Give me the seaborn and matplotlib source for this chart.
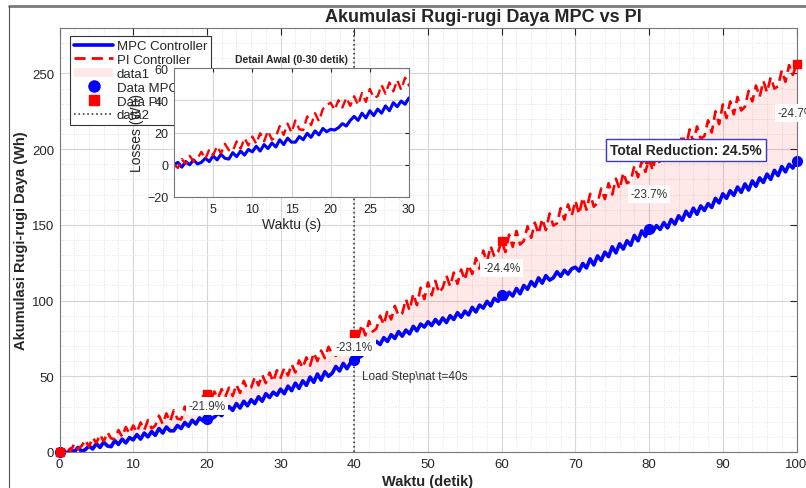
import numpy as np
import matplotlib
matplotlib.use("Agg")
import matplotlib.pyplot as plt
import seaborn as sns
from matplotlib.lines import Line2D
from matplotlib.ticker import MultipleLocator

# ---------------- data ----------------
time_s = np.linspace(0, 100, 201)

mpc_loss = [
    0.0, 1.5, -1.5, 2.0, 0.0, 3.0, 0.5, 1.5, 4.0, 2.0, 5.5, 3.0, 6.5, 4.0, 3.5, 7.5, 5.0, 8.5, 6.0, 9.5,
    8.0, 11.5, 8.5, 12.5, 10.0, 13.5, 11.0, 15.5, 12.5, 16.5, 14.0, 14.0, 17.5, 15.5, 19.5, 17.0, 21.0, 18.5, 22.5, 20.5,
    22.0, 21.5, 23.0, 25.5, 24.0, 27.5, 30.0, 27.5, 32.0, 29.0, 33.5, 30.5, 34.5, 32.0, 36.5, 33.5, 38.5, 36.0, 39.5, 37.5,
    41.5, 38.5, 43.5, 40.5, 45.5, 42.0, 47.0, 44.0, 49.5, 46.0, 51.5, 47.5, 53.0, 50.0, 52.0, 56.5, 53.5, 58.5, 55.0, 59.0,
    60.5, 62.0, 63.5, 66.0, 68.5, 70.5, 73.0, 71.0, 75.5, 73.0, 77.5, 75.0, 79.5, 76.5, 80.5, 78.0, 83.0, 80.0, 84.5, 82.5,
    86.0, 83.5, 87.5, 84.5, 88.5, 85.5, 90.0, 87.5, 92.0, 89.0, 93.0, 90.5, 95.5, 92.5, 97.0, 95.0, 99.5, 96.5, 101.5, 99.5,
    103.5, 101.0, 105.5, 103.0, 108.0, 104.5, 110.0, 107.5, 112.5, 109.5, 115.0, 111.5, 116.5, 113.5, 115.0, 119.0, 116.0, 120.0, 117.5, 121.0,
    122.0, 119.5, 124.5, 121.5, 127.5, 123.5, 129.5, 126.5, 132.0, 129.0, 135.5, 131.5, 137.5, 134.0, 139.5, 136.5, 143.0, 139.5, 146.0, 142.5,
    147.5, 145.5, 149.5, 147.0, 151.5, 148.0, 153.5, 150.5, 156.0, 153.0, 159.0, 155.5, 161.0, 157.0, 162.5, 159.5, 164.0, 161.5, 167.5, 164.5,
    170.5, 167.5, 172.5, 169.5, 175.0, 171.5, 177.0, 173.0, 179.0, 175.5, 181.0, 178.0, 183.5, 180.0, 186.0, 182.5, 188.5, 185.0, 190.0, 187.5, 192.0,
]

pi_loss = [
    0.0, -2.0, 3.5, 0.5, 5.5, 2.0, 4.0, 8.0, 3.5, 9.5, 6.0, 11.5, 7.0, 13.0, 9.0, 8.5, 14.5, 10.0, 16.5, 12.0,
    17.5, 13.0, 19.5, 14.5, 21.0, 15.5, 17.5, 24.0, 18.5, 25.5, 20.0, 27.5, 22.0, 21.5, 30.0, 24.5, 32.0, 27.0, 34.5, 37.0,
    38.5, 34.0, 40.0, 35.5, 41.5, 36.5, 42.5, 37.0, 44.5, 39.0, 47.0, 41.5, 42.5, 49.5, 44.0, 51.0, 45.5, 52.5, 46.5, 54.0,
    49.0, 55.5, 50.5, 58.0, 52.5, 60.5, 55.5, 62.5, 57.0, 65.5, 60.0, 67.0, 62.0, 69.5, 64.5, 63.5, 71.5, 66.5, 74.0, 69.0,
    78.0, 74.5, 84.0, 77.0, 86.5, 79.5, 81.5, 90.0, 84.0, 93.5, 87.5, 96.5, 90.0, 91.5, 101.0, 93.5, 104.5, 97.0, 108.5, 101.0,
    112.0, 103.5, 113.0, 105.0, 108.5, 116.5, 109.5, 118.5, 111.0, 120.5, 113.5, 123.5, 117.5, 128.0, 121.0, 133.0, 125.5, 136.0, 129.0, 132.0,
    139.5, 132.0, 143.5, 135.5, 146.0, 137.0, 139.5, 149.0, 141.5, 151.5, 144.0, 154.0, 146.5, 157.5, 149.5, 151.0, 161.0, 153.5, 163.5, 156.0,
    166.0, 157.0, 168.0, 160.0, 170.5, 162.0, 164.5, 174.0, 167.0, 177.5, 170.0, 180.5, 173.5, 184.5, 177.5, 179.0, 189.0, 181.5, 192.5, 185.0,
    193.5, 186.0, 198.5, 189.5, 201.0, 192.0, 194.5, 205.0, 198.0, 209.5, 202.0, 213.0, 204.5, 215.0, 207.0, 208.5, 219.0, 211.0, 225.0, 216.5,
    229.5, 220.5, 231.5, 223.0, 234.5, 225.5, 228.0, 238.5, 231.5, 242.0, 234.5, 245.0, 237.5, 247.5, 240.0, 241.5, 252.0, 244.5, 255.5, 249.0, 256.0,
]

marker_t = [0, 20, 40, 60, 80, 100]
mpc_mark = [0.0, 22.0, 60.5, 103.5, 147.5, 192.0]
pi_mark = [0.0, 38.5, 78.0, 139.5, 193.5, 256.0]

reduction_idx = [1, 2, 3, 4, 5]
reduction_labels = ["-21.9%", "-23.1%", "-24.4%", "-23.7%", "-24.7%"]
total_label = "Total Reduction: 24.5%"

# ---------------- style ----------------
sns.set_style("white")
plt.rcParams['font.family'] = ['Liberation Sans', 'DejaVu Sans']
TXT = '#262626'
PI_DASH = (0, (4, 2.2))

W, H = 806, 489
fig = plt.figure(figsize=(W / 100, H / 100), dpi=100)
ax = fig.add_axes([59.5 / W, (H - 453) / H, (796.5 - 59.5) / W, (453 - 29) / H])

ax.fill_between(time_s, mpc_loss, pi_loss, color='red', alpha=0.09, lw=0, zorder=1.5)
sns.lineplot(x=time_s, y=mpc_loss, ax=ax, color='blue', lw=2.6, zorder=2)
sns.lineplot(x=time_s, y=pi_loss, ax=ax, color='red', lw=1.9, linestyle=PI_DASH, zorder=2.1)
ax.axvline(40, color='#404040', ls=':', lw=1.2, zorder=2.2)
ax.plot(marker_t, mpc_mark, 'o', color='blue', ms=7, clip_on=False, zorder=2.5)
ax.plot(marker_t, pi_mark, 's', color='red', ms=6, clip_on=False, zorder=2.6)

for i, lab in zip(reduction_idx, reduction_labels):
    ax.text(marker_t[i], (mpc_mark[i] + pi_mark[i]) / 2, lab, ha='center', va='center',
            fontsize=8.5, color='#333333', zorder=5,
            bbox=dict(facecolor='white', edgecolor='none', pad=2.0))

ax.text(85, 199.5, total_label, ha='center', va='center', fontsize=10, fontweight='bold',
        color=TXT, zorder=6,
        bbox=dict(boxstyle='square,pad=0.3', facecolor='white', edgecolor='#3a3acc', lw=1.0))
ax.text(41.1, 50, "Load Step\\nat t=40s", ha='left', va='center', fontsize=8.5,
        color='#333333', zorder=5)

ax.set_xlim(0, 100)
ax.set_ylim(0, 280)
ax.xaxis.set_major_locator(MultipleLocator(10))
ax.xaxis.set_minor_locator(MultipleLocator(2))
ax.yaxis.set_major_locator(MultipleLocator(50))
ax.yaxis.set_minor_locator(MultipleLocator(10))
ax.grid(which='major', color='#d6d6d6', lw=0.8)
ax.grid(which='minor', color='#e2e2e2', ls=':', lw=0.7)
ax.set_axisbelow(True)
ax.tick_params(which='major', direction='in', top=True, right=True, length=5, width=0.8,
               colors=TXT, labelsize=9.5, pad=4)
ax.tick_params(which='minor', length=0)
for s in ax.spines.values():
    s.set_color('#777777')
    s.set_linewidth(0.8)
ax.set_xlabel("Waktu (detik)", fontsize=10.5, fontweight='bold', color=TXT, labelpad=3)
ax.set_ylabel("Akumulasi Rugi-rugi Daya (Wh)", fontsize=10.5, fontweight='bold', color=TXT, labelpad=3)

handles = [
    Line2D([], [], color='blue', lw=2.6),
    Line2D([], [], color='red', lw=2.0, ls=PI_DASH),
    plt.Rectangle((0, 0), 1, 1, facecolor='red', alpha=0.09, lw=0),
    Line2D([], [], marker='o', ls='none', color='blue', ms=8),
    Line2D([], [], marker='s', ls='none', color='red', ms=7),
    Line2D([], [], color='#404040', ls=':', lw=1.2),
]
labels = ["MPC Controller", "PI Controller", "data1", "Data MPC", "Data PI", "data2"]
leg = ax.legend(handles, labels, loc='upper left', bbox_to_anchor=(0.014, 0.981),
                borderaxespad=0, fontsize=9.5, frameon=True, fancybox=False, framealpha=1,
                edgecolor='#333333', handlelength=3.0, handletextpad=0.25, labelspacing=0.12,
                borderpad=0.3, numpoints=1)
leg.get_frame().set_linewidth(0.8)
for t in leg.get_texts():
    t.set_color(TXT)

fig.text(483 / W, 1 - 17 / H, "Akumulasi Rugi-rugi Daya MPC vs PI", ha='center', va='center',
         fontsize=13, fontweight='bold', color=TXT)

# ---------------- inset ----------------
axin = fig.add_axes([174 / W, (H - 198) / H, (409 - 174) / W, (198 - 69) / H])
n_in = 63
sns.lineplot(x=time_s[:n_in], y=mpc_loss[:n_in], ax=axin, color='blue', lw=2.2)
sns.lineplot(x=time_s[:n_in], y=pi_loss[:n_in], ax=axin, color='red', lw=1.7, linestyle=PI_DASH)
axin.set_xlim(0, 30)
axin.set_ylim(-20, 60)
axin.set_xticks([5, 10, 15, 20, 25, 30])
axin.set_yticks([-20, 0, 20, 40, 60])
axin.grid(which='major', color='#d6d6d6', lw=0.8)
axin.set_axisbelow(True)
axin.tick_params(direction='in', top=True, right=True, length=3, width=0.8, colors=TXT,
                 labelsize=9, pad=4)
for s in axin.spines.values():
    s.set_color('#777777')
    s.set_linewidth(0.8)
axin.set_title("Detail Awal (0-30 detik)", fontsize=7.5, fontweight='bold', color=TXT, pad=4)
axin.set_xlabel("Waktu (s)", fontsize=10, color=TXT, labelpad=2)
axin.set_ylabel("Losses (Wh)", fontsize=10, color=TXT, labelpad=2)

# figure border lines
fig.add_artist(Line2D([9 / W, 1], [1 - 7 / H, 1 - 7 / H], transform=fig.transFigure,
                      color='#7a7a7a', lw=2))
fig.add_artist(Line2D([9 / W, 9 / W], [0, 1 - 7 / H], transform=fig.transFigure,
                      color='#555555', lw=0.8))

fig.savefig("out.png", dpi=100)
